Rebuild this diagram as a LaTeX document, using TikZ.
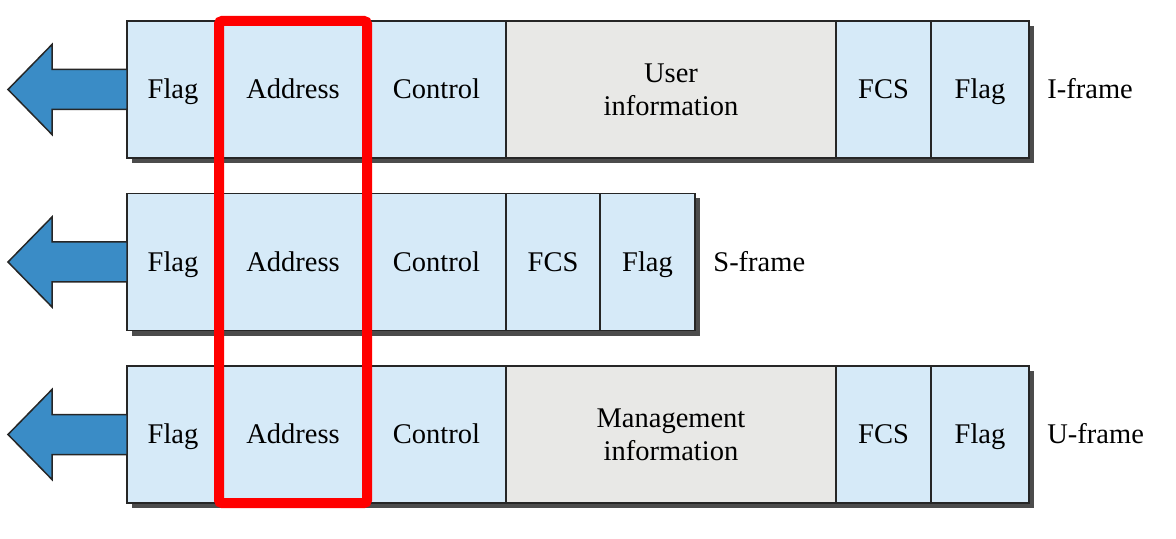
\documentclass[tikz,border=0pt]{standalone}
\usepackage{fontspec}
\setmainfont{Liberation Serif}
\usetikzlibrary{positioning,shadows,fit}
\definecolor{fieldblue}{RGB}{214,234,248}
\definecolor{infogray}{RGB}{232,232,230}
\definecolor{arrowblue}{RGB}{58,140,198}

\begin{document}
\begin{tikzpicture}[
	x=0.5pt,
	y=-0.5pt,
	font=\rmfamily\fontsize{14.25}{16.5}\selectfont,
	cell/.style={draw=black!85,line width=0.75pt,fill=fieldblue,
		minimum height=68.5pt,inner sep=0pt,outer sep=0pt,align=center,
		general shadow={fill=black!70,shadow xshift=2.5pt,shadow yshift=-2.5pt}},
	fld/.style={cell,text height=12.5pt,text depth=3.1pt},
	info/.style={cell,fill=infogray},
	lbl/.style={inner sep=0pt,text height=12.5pt,text depth=3.1pt,right=9pt of #1},
	arr/.style={draw=black!85,fill=arrowblue,line width=0.75pt},
	redbox/.style={draw=red,line width=5pt,rounded corners=1.5pt,inner sep=0pt},
	]
\useasboundingbox (0,0) rectangle (1176,539);
% I-frame
\node [fld,minimum width=46pt] (i1) at (173,89.5) {Flag};
\node [fld,minimum width=74pt,right=0pt of i1] (i2) {Address};
\node [fld,minimum width=69.5pt,right=0pt of i2] (i3) {Control};
\node [info,minimum width=165pt,right=0pt of i3] (i4) {User\\information};
\node [fld,minimum width=47.5pt,right=0pt of i4] (i5) {FCS};
\node [fld,minimum width=49pt,right=0pt of i5] (i6) {Flag};
\node [lbl=i6] (il) {I-frame};
% S-frame
\node [fld,minimum width=46pt] (s1) at (173,262) {Flag};
\node [fld,minimum width=74pt,right=0pt of s1] (s2) {Address};
\node [fld,minimum width=69.5pt,right=0pt of s2] (s3) {Control};
\node [fld,minimum width=47pt,right=0pt of s3] (s4) {FCS};
\node [fld,minimum width=47.5pt,right=0pt of s4] (s5) {Flag};
\node [lbl=s5] (sl) {S-frame};
% U-frame
\node [fld,minimum width=46pt] (u1) at (173,434.5) {Flag};
\node [fld,minimum width=74pt,right=0pt of u1] (u2) {Address};
\node [fld,minimum width=69.5pt,right=0pt of u2] (u3) {Control};
\node [info,minimum width=165pt,right=0pt of u3] (u4) {Management\\information};
\node [fld,minimum width=47.5pt,right=0pt of u4] (u5) {FCS};
\node [fld,minimum width=49pt,right=0pt of u5] (u6) {Flag};
\node [lbl=u6] (ul) {U-frame};
\foreach \r in {i1,s1,u1}
	\draw [arr] (\r.west) ++(0,-20) -- ++(-75,0) -- ++(0,-25) -- ++(-44,45)
		-- ++(44,45) -- ++(0,-25) -- ++(75,0) -- cycle;
\node [redbox,fit=(i2)(u2)] (sel) {};
\end{tikzpicture}
\end{document}
